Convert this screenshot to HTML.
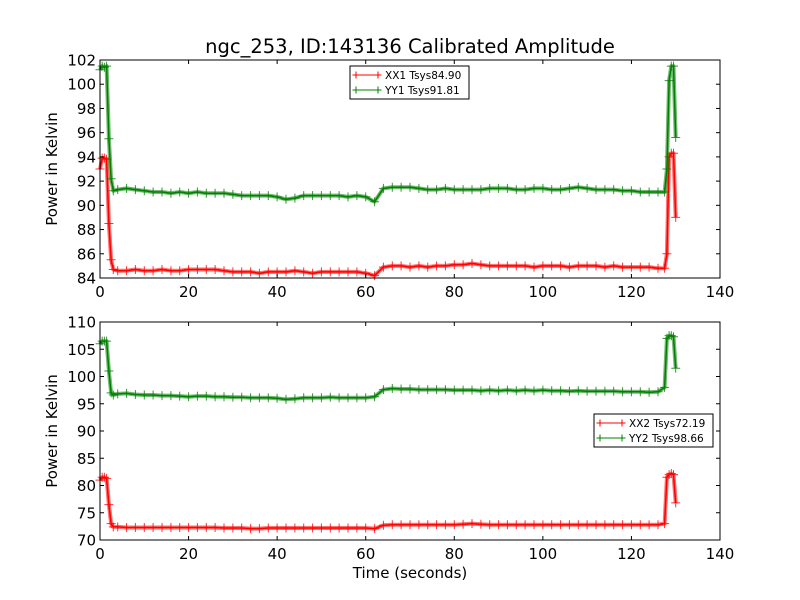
<!DOCTYPE html>
<html><head><meta charset="utf-8"><style>
html,body{margin:0;padding:0;background:#fff;}
svg{display:block;font-family:"DejaVu Sans","Liberation Sans",sans-serif;}
</style></head><body>
<svg id="chart" width="800" height="600" viewBox="0 0 800 600"></svg>
<script>
const sampleTimes=[0,0.5,1,1.5,2,2.5,3,4,6,8,10,12,14,16,18,20,22,24,26,28,30,32,34,36,38,40,42,44,46,48,50,52,54,56,58,60,62,64,66,68,70,72,74,76,78,80,82,84,86,88,90,92,94,96,98,100,102,104,106,108,110,112,114,116,118,120,122,124,126,127.5,128,128.5,129,129.5,130];
const xx1=[93,93.9,93.9,93.8,88.5,85.5,84.7,
84.6,84.6,84.7,84.6,84.6,84.7,84.6,84.6,84.7,84.7,
84.7,84.7,84.6,84.5,84.5,84.5,84.4,84.5,84.5,84.5,
84.6,84.5,84.4,84.5,84.5,84.5,84.5,84.5,84.4,84.2,
84.9,85.0,85.0,84.9,85.0,84.9,85.0,85.0,85.1,85.1,
85.2,85.1,85.0,85.0,85.0,85.0,85.0,84.9,85.0,85.0,
85.0,84.9,85.0,85.0,85.0,84.9,85.0,84.9,84.9,84.9,
84.9,84.8,
84.8,86,94,94.3,94.3,89];
const yy1=[101.2,101.5,101.4,101.5,95.5,92.2,91.2,
91.3,91.4,91.3,91.2,91.1,91.1,91.0,91.1,91.0,91.1,
91.0,91.0,91.0,90.9,90.8,90.8,90.8,90.8,90.7,90.5,
90.6,90.8,90.8,90.8,90.8,90.8,90.7,90.8,90.7,90.3,
91.4,91.5,91.5,91.5,91.4,91.3,91.3,91.4,91.3,91.3,
91.3,91.3,91.4,91.4,91.4,91.3,91.3,91.4,91.4,91.3,
91.3,91.4,91.5,91.4,91.3,91.3,91.3,91.2,91.2,91.1,
91.1,91.1,
91.1,93,100.3,101.5,101.5,95.6];
const xx2=[81,81.5,81.5,81.3,76.5,73,72.4,
72.4,72.3,72.3,72.3,72.3,72.3,72.3,72.3,72.3,72.3,
72.3,72.3,72.2,72.2,72.2,72.1,72.1,72.2,72.2,72.2,
72.2,72.2,72.2,72.2,72.2,72.2,72.2,72.2,72.2,72.1,
72.7,72.8,72.8,72.8,72.8,72.8,72.8,72.8,72.8,72.9,
73.0,72.9,72.8,72.8,72.8,72.8,72.8,72.8,72.8,72.8,
72.8,72.8,72.8,72.8,72.8,72.8,72.8,72.8,72.8,72.8,
72.8,72.8,
73,81.5,82,82.2,82,76.8];
const yy2=[106,106.5,106.5,106.5,101,97,96.6,
96.8,96.9,96.7,96.6,96.6,96.5,96.5,96.4,96.3,96.4,
96.4,96.3,96.3,96.2,96.2,96.1,96.1,96.1,96.0,95.8,
95.9,96.1,96.1,96.1,96.2,96.1,96.1,96.1,96.1,96.3,
97.6,97.8,97.7,97.7,97.6,97.6,97.6,97.6,97.5,97.5,
97.5,97.4,97.5,97.4,97.5,97.4,97.5,97.4,97.5,97.4,
97.4,97.3,97.4,97.3,97.3,97.3,97.3,97.2,97.2,97.2,
97.1,97.2,
98,107,107.5,107.5,107.3,101.5];
const xTicks=[0,20,40,60,80,100,120,140];
const yTicksTop=[84,86,88,90,92,94,96,98,100,102];
const yTicksBottom=[70,75,80,85,90,95,100,105,110];

const NS="http://www.w3.org/2000/svg";
const svg=document.getElementById('chart');
function mk(tag,attrs,parent){const e=document.createElementNS(NS,tag);for(const k in attrs)e.setAttribute(k,attrs[k]);(parent||svg).appendChild(e);return e;}
const X0=100,X1=720;
function xs(v){return X0+(v-0)/(140-0)*(X1-X0);}

function panel(name,top,bottom,ymin,ymax,yTicks,series,legend){
  const g=mk('g',{});
  
  
  const ys=v=>bottom-(v-ymin)/(ymax-ymin)*(bottom-top);
  series.forEach(s=>{
    const sg=mk('g',{},g);
    
    
    let d='';
    sampleTimes.forEach((t,i)=>{d+=(i?'L':'M')+xs(t).toFixed(1)+' '+ys(s.vals[i]).toFixed(1);});
    const band=mk('path',{d:d,fill:'none',stroke:s.color,'stroke-width':4,'stroke-opacity':0.55,'stroke-linejoin':'round'},sg);
    
    
    const p=mk('path',{d:d,fill:'none',stroke:s.color,'stroke-width':1.5},sg);
    
    
    let md='';
    sampleTimes.forEach((t,i)=>{const x=xs(t),y=ys(s.vals[i]);md+=`M${(x-4.5).toFixed(1)} ${y.toFixed(1)}h9M${x.toFixed(1)} ${(y-4.5).toFixed(1)}v9`;});
    const m=mk('path',{d:md,fill:'none',stroke:s.color,'stroke-width':1,'stroke-opacity':0.8},sg);
    
    
  });
  const fr=mk('rect',{x:X0,y:top,width:X1-X0,height:bottom-top,fill:'none',stroke:'#000','stroke-width':1},g);
  
  
  xTicks.forEach(v=>{
    const x=xs(v);
    mk('line',{x1:x,y1:bottom,x2:x,y2:bottom-4,stroke:'#000'},g);
    mk('line',{x1:x,y1:top,x2:x,y2:top+4,stroke:'#000'},g);
    const t=mk('text',{x:x,y:bottom+19,'font-size':15,'text-anchor':'middle'},g);
    t.textContent=v;
    
    
  });
  yTicks.forEach(v=>{
    const y=ys(v);
    mk('line',{x1:X0,y1:y,x2:X0+4,y2:y,stroke:'#000'},g);
    mk('line',{x1:X1,y1:y,x2:X1-4,y2:y,stroke:'#000'},g);
    const t=mk('text',{x:X0-4,y:y+5.5,'font-size':15,'text-anchor':'end'},g);
    t.textContent=v;
    
    
  });
  const yl=mk('text',{x:0,y:0,'font-size':15,'text-anchor':'middle',transform:`translate(57,${(top+bottom)/2}) rotate(-90)`},g);
  yl.textContent='Power in Kelvin';
  
  
  const lg=mk('g',{},g);
  
  
  mk('rect',{x:legend.x,y:legend.y,width:119,height:33,fill:'#fff',stroke:'#000','stroke-width':1},lg);
  series.forEach((s,i)=>{
    const y=legend.y+9+i*15;
    const e=mk('g',{},lg);
    
    
    mk('line',{x1:legend.x+6,y1:y,x2:legend.x+28,y2:y,stroke:s.color,'stroke-width':1},e);
    mk('path',{d:`M${legend.x+2.5} ${y}h7M${legend.x+6} ${y-3.5}v7M${legend.x+24.5} ${y}h7M${legend.x+28} ${y-3.5}v7`,stroke:s.color,fill:'none'},e);
    const t=mk('text',{x:legend.x+35,y:y+4,'font-size':10.5},e);
    t.textContent=s.label;
  });
}

panel('top-panel',60,278,84,102,yTicksTop,[
 {name:'xx1-series',vals:xx1,color:'#ff0000',label:'XX1 Tsys84.90'},
 {name:'yy1-series',vals:yy1,color:'#008000',label:'YY1 Tsys91.81'}],{x:350,y:66});
panel('bottom-panel',322,540,70,110,yTicksBottom,[
 {name:'xx2-series',vals:xx2,color:'#ff0000',label:'XX2 Tsys72.19'},
 {name:'yy2-series',vals:yy2,color:'#008000',label:'YY2 Tsys98.66'}],{x:594,y:414});

const title=mk('text',{x:410,y:53,'font-size':19.5,'text-anchor':'middle'});
title.textContent='ngc_253, ID:143136 Calibrated Amplitude';


const xl=mk('text',{x:410,y:578,'font-size':15,'text-anchor':'middle'});
xl.textContent='Time (seconds)';


</script>
</body></html>
